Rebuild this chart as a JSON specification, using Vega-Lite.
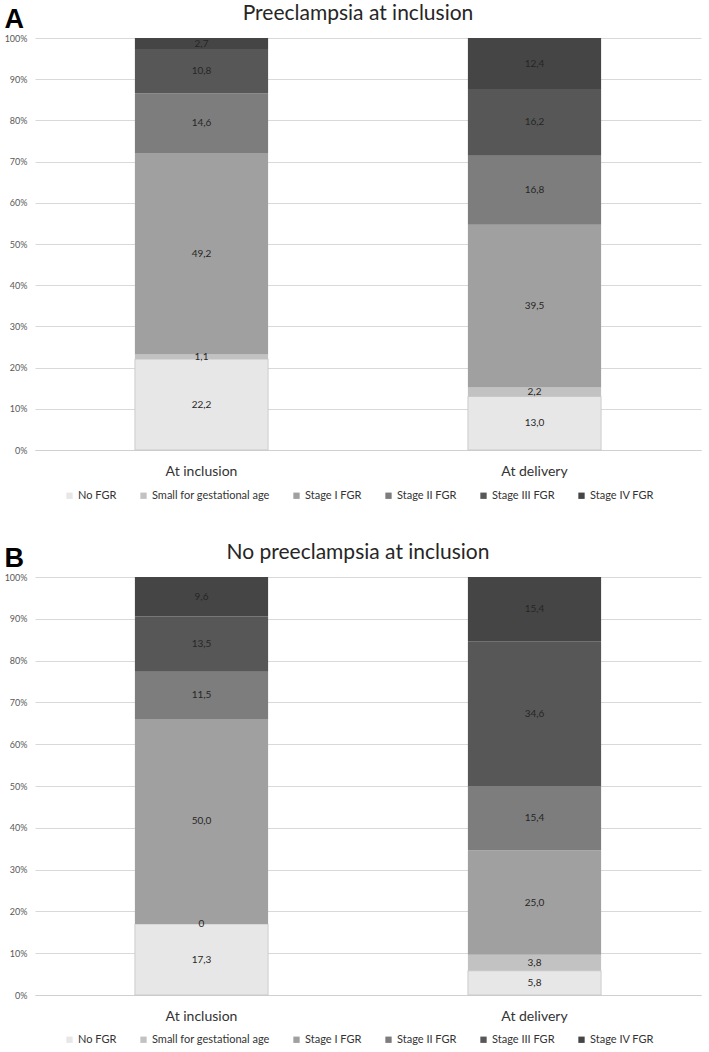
{
  "$schema": "https://vega.github.io/schema/vega-lite/v6.json",
  "background": "white",
  "padding": {"left": 4, "top": 3, "right": 5, "bottom": 2},
  "spacing": 41,
  "config": {
    "font": "Lato",
    "view": {"stroke": null},
    "title": {"font": "Lato", "fontSize": 21, "fontWeight": "normal", "color": "#262626", "offset": -19},
    "axis": {"labelFont": "Lato", "labelColor": "#595959"},
    "legend": {"labelFont": "Lato"}
  },
  "datasets": {
    "fgr": [
      {"panel": "A", "time": "At inclusion", "stage": "No FGR", "value": 22.2, "label": "22,2"},
      {"panel": "A", "time": "At inclusion", "stage": "Small for gestational age", "value": 1.1, "label": "1,1"},
      {"panel": "A", "time": "At inclusion", "stage": "Stage I FGR", "value": 49.2, "label": "49,2"},
      {"panel": "A", "time": "At inclusion", "stage": "Stage II FGR", "value": 14.6, "label": "14,6"},
      {"panel": "A", "time": "At inclusion", "stage": "Stage III FGR", "value": 10.8, "label": "10,8"},
      {"panel": "A", "time": "At inclusion", "stage": "Stage IV FGR", "value": 2.7, "label": "2,7"},
      {"panel": "A", "time": "At delivery", "stage": "No FGR", "value": 13.0, "label": "13,0"},
      {"panel": "A", "time": "At delivery", "stage": "Small for gestational age", "value": 2.2, "label": "2,2"},
      {"panel": "A", "time": "At delivery", "stage": "Stage I FGR", "value": 39.5, "label": "39,5"},
      {"panel": "A", "time": "At delivery", "stage": "Stage II FGR", "value": 16.8, "label": "16,8"},
      {"panel": "A", "time": "At delivery", "stage": "Stage III FGR", "value": 16.2, "label": "16,2"},
      {"panel": "A", "time": "At delivery", "stage": "Stage IV FGR", "value": 12.4, "label": "12,4"},
      {"panel": "B", "time": "At inclusion", "stage": "No FGR", "value": 17.3, "label": "17,3"},
      {"panel": "B", "time": "At inclusion", "stage": "Small for gestational age", "value": 0, "label": "0"},
      {"panel": "B", "time": "At inclusion", "stage": "Stage I FGR", "value": 50.0, "label": "50,0"},
      {"panel": "B", "time": "At inclusion", "stage": "Stage II FGR", "value": 11.5, "label": "11,5"},
      {"panel": "B", "time": "At inclusion", "stage": "Stage III FGR", "value": 13.5, "label": "13,5"},
      {"panel": "B", "time": "At inclusion", "stage": "Stage IV FGR", "value": 9.6, "label": "9,6"},
      {"panel": "B", "time": "At delivery", "stage": "No FGR", "value": 5.8, "label": "5,8"},
      {"panel": "B", "time": "At delivery", "stage": "Small for gestational age", "value": 3.8, "label": "3,8"},
      {"panel": "B", "time": "At delivery", "stage": "Stage I FGR", "value": 25.0, "label": "25,0"},
      {"panel": "B", "time": "At delivery", "stage": "Stage II FGR", "value": 15.4, "label": "15,4"},
      {"panel": "B", "time": "At delivery", "stage": "Stage III FGR", "value": 34.6, "label": "34,6"},
      {"panel": "B", "time": "At delivery", "stage": "Stage IV FGR", "value": 15.4, "label": "15,4"}
    ]
  },
  "resolve": {"legend": {"color": "independent"}, "scale": {"color": "independent"}},
  "vconcat": [
    {
      "title": {"text": "Preeclampsia at inclusion", "dx": -10},
      "width": 666,
      "height": 412,
      "data": {"name": "fgr"},
      "transform": [
        {"filter": "datum.panel === 'A'"},
        {"stack": "value", "groupby": ["time"], "offset": "normalize", "sort": [{"field": "stage", "order": "ascending"}], "as": ["y0", "y1"]}
      ],
      "encoding": {
        "x": {"field": "time", "type": "nominal", "sort": ["At inclusion", "At delivery"],
          "scale": {"paddingInner": 0.6, "paddingOuter": 0.3},
          "axis": {"title": null, "labelAngle": 0, "labelFontSize": 14, "labelColor": "#333333", "labelPadding": 14, "ticks": false, "domainColor": "#d0d0d0", "domainWidth": 1}
        }
      },
      "layer": [
        {
          "mark": {"type": "bar", "strokeWidth": 0.8},
          "encoding": {
            "y": {"field": "y0", "type": "quantitative", "scale": {"domain": [0, 1]},
              "axis": {"format": ".0%", "values": [0, 0.1, 0.2, 0.3, 0.4, 0.5, 0.6, 0.7, 0.8, 0.9, 1], "labelFontSize": 9, "ticks": false, "domain": false, "gridColor": "#d9d9d9", "gridWidth": 1, "labelPadding": 8,
                "title": "A", "titleAngle": 0, "titleAlign": "left", "titleBaseline": "top", "titleX": -31, "titleY": -32, "titleFont": "Liberation Sans", "titleFontSize": 27, "titleFontWeight": "bold", "titleColor": "#000000"}},
            "y2": {"field": "y1"},
            "stroke": {"condition": {"test": "datum.stage === 'No FGR'", "value": "#c4c4c4"}, "value": null},
            "color": {"field": "stage", "type": "nominal",
              "scale": {"domain": ["No FGR", "Small for gestational age", "Stage I FGR", "Stage II FGR", "Stage III FGR", "Stage IV FGR"],
                "range": ["#e7e7e7", "#c2c2c2", "#a0a0a0", "#7d7d7d", "#575757", "#454545"]},
              "legend": {"title": null, "orient": "none", "legendX": 29, "legendY": 452, "direction": "horizontal", "symbolType": "square", "symbolSize": 40, "symbolStrokeWidth": 0, "labelFontSize": 11, "labelColor": "#333333", "columnPadding": 21, "labelOffset": 3}}
          }
        },
        {
          "transform": [
            {"fold": ["y0", "y1"], "as": ["k", "pos"]},
            {"aggregate": [{"op": "mean", "field": "pos", "as": "mid"}], "groupby": ["time", "stage", "label"]}
          ],
          "mark": {"type": "text", "fontSize": 10, "color": "#262626", "baseline": "middle"},
          "encoding": {
            "y": {"field": "mid", "type": "quantitative"},
            "text": {"field": "label"}
          }
        }
      ]
    },
    {
      "title": {"text": "No preeclampsia at inclusion", "dx": -10},
      "width": 666,
      "height": 418,
      "data": {"name": "fgr"},
      "transform": [
        {"filter": "datum.panel === 'B'"},
        {"stack": "value", "groupby": ["time"], "offset": "normalize", "sort": [{"field": "stage", "order": "ascending"}], "as": ["y0", "y1"]}
      ],
      "encoding": {
        "x": {"field": "time", "type": "nominal", "sort": ["At inclusion", "At delivery"],
          "scale": {"paddingInner": 0.6, "paddingOuter": 0.3},
          "axis": {"title": null, "labelAngle": 0, "labelFontSize": 14, "labelColor": "#333333", "labelPadding": 14, "ticks": false, "domainColor": "#d0d0d0", "domainWidth": 1}
        }
      },
      "layer": [
        {
          "mark": {"type": "bar", "strokeWidth": 0.8},
          "encoding": {
            "y": {"field": "y0", "type": "quantitative", "scale": {"domain": [0, 1]},
              "axis": {"format": ".0%", "values": [0, 0.1, 0.2, 0.3, 0.4, 0.5, 0.6, 0.7, 0.8, 0.9, 1], "labelFontSize": 9, "ticks": false, "domain": false, "gridColor": "#d9d9d9", "gridWidth": 1, "labelPadding": 8,
                "title": "B", "titleAngle": 0, "titleAlign": "left", "titleBaseline": "top", "titleX": -31, "titleY": -32, "titleFont": "Liberation Sans", "titleFontSize": 27, "titleFontWeight": "bold", "titleColor": "#000000"}},
            "y2": {"field": "y1"},
            "stroke": {"condition": {"test": "datum.stage === 'No FGR'", "value": "#c4c4c4"}, "value": null},
            "color": {"field": "stage", "type": "nominal",
              "scale": {"domain": ["No FGR", "Small for gestational age", "Stage I FGR", "Stage II FGR", "Stage III FGR", "Stage IV FGR"],
                "range": ["#e7e7e7", "#c2c2c2", "#a0a0a0", "#7d7d7d", "#575757", "#454545"]},
              "legend": {"title": null, "orient": "none", "legendX": 29, "legendY": 457, "direction": "horizontal", "symbolType": "square", "symbolSize": 40, "symbolStrokeWidth": 0, "labelFontSize": 11, "labelColor": "#333333", "columnPadding": 21, "labelOffset": 3}}
          }
        },
        {
          "transform": [
            {"fold": ["y0", "y1"], "as": ["k", "pos"]},
            {"aggregate": [{"op": "mean", "field": "pos", "as": "mid"}], "groupby": ["time", "stage", "label"]}
          ],
          "mark": {"type": "text", "fontSize": 10, "color": "#262626", "baseline": "middle"},
          "encoding": {
            "y": {"field": "mid", "type": "quantitative"},
            "text": {"field": "label"}
          }
        }
      ]
    }
  ]
}
